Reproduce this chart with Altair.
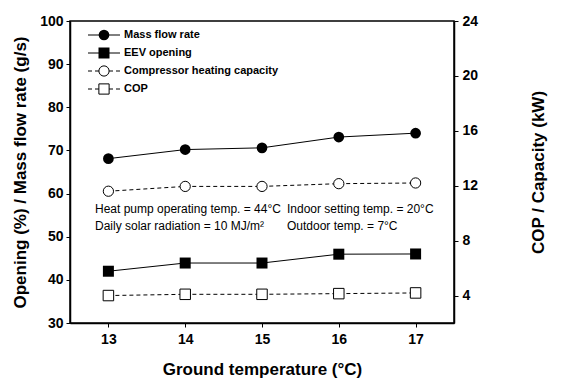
import altair as alt
import pandas as pd

# Data
ground_temp = [13, 14, 15, 16, 17]
mass_flow = [68.1, 70.2, 70.6, 73.1, 74.0]        # g/s (left axis)
eev_opening = [42.0, 43.9, 43.9, 45.95, 46.0]      # % (left axis)
comp_capacity = [11.6, 11.95, 11.95, 12.15, 12.2]  # kW (right axis)
cop = [4.0, 4.09, 4.09, 4.14, 4.19]                # - (right axis)

left_ticks = [30, 40, 50, 60, 70, 80, 90, 100]
right_ticks = [4, 8, 12, 16, 20, 24]
x_ticks = [13, 14, 15, 16, 17]

legend_labels = ["Mass flow rate", "EEV opening", "Compressor heating capacity", "COP"]
note_lines = [
    ["Heat pump operating temp. = 44°C", "Indoor setting temp. = 20°C"],
    ["Daily solar radiation = 10 MJ/m²", "Outdoor temp. = 7°C"],
]

df = pd.DataFrame({
    "temp": ground_temp,
    "mass": mass_flow,
    "eev": eev_opening,
    "cap": comp_capacity,
    "cop": cop,
})

FONT = "Liberation Sans"
W, H = 384, 302

x_axis = alt.Axis(values=x_ticks, title="Ground temperature (°C)", format="d",
                  labelFont=FONT, labelFontSize=14, labelFontWeight="bold",
                  titleFont=FONT, titleFontSize=17, titleFontWeight="bold",
                  tickSize=4, labelPadding=5, titlePadding=15, grid=False,
                  domainColor="black", tickColor="black", labelColor="black",
                  titleColor="black", domainWidth=1.5)
x_enc = alt.X("temp:Q", scale=alt.Scale(domain=[12.5, 17.5], nice=False, zero=False),
              axis=x_axis)

lscale = alt.Scale(domain=[30, 100], nice=False, zero=False)
rscale = alt.Scale(domain=[2, 24], nice=False, zero=False)

left_axis = alt.Axis(values=left_ticks, title="Opening (%) / Mass flow rate (g/s)",
                     labelFont=FONT, labelFontSize=14, labelFontWeight="bold",
                     titleFont=FONT, titleFontSize=17, titleFontWeight="bold",
                     tickSize=4, labelPadding=3, titlePadding=10, grid=False,
                     domainColor="black", tickColor="black", labelColor="black",
                     titleColor="black", domainWidth=1.5)
right_axis = alt.Axis(values=right_ticks, title="COP / Capacity (kW)", orient="right",
                      labelFont=FONT, labelFontSize=14, labelFontWeight="bold",
                      titleFont=FONT, titleFontSize=17, titleFontWeight="bold",
                      titleAngle=270, titleBaseline="bottom",
                      tickSize=4, labelPadding=4, titlePadding=70, grid=False,
                      domainColor="black", tickColor="black", labelColor="black",
                      titleColor="black", domainWidth=1.5)


def ly(field):
    return alt.Y(f"{field}:Q", scale=lscale, axis=left_axis)


def ry(field):
    return alt.Y(f"{field}:Q", scale=rscale, axis=right_axis)


base = alt.Chart(df)

mass_line = base.mark_line(color="black", strokeWidth=1).encode(x=x_enc, y=ly("mass"))
mass_pt = base.mark_point(shape="circle", filled=True, color="black", size=115, opacity=1).encode(
    x=x_enc, y=ly("mass"))
eev_line = base.mark_line(color="black", strokeWidth=1).encode(x=x_enc, y=ly("eev"))
eev_pt = base.mark_point(shape="square", filled=True, color="black", size=121, opacity=1).encode(
    x=x_enc, y=ly("eev"))

cap_line = base.mark_line(color="black", strokeWidth=1, strokeDash=[4, 3]).encode(
    x=x_enc, y=ry("cap"))
cap_pt = base.mark_point(shape="circle", filled=False, fill="white", stroke="black",
                         strokeWidth=1, size=105, opacity=1).encode(x=x_enc, y=ry("cap"))
cop_line = base.mark_line(color="black", strokeWidth=1, strokeDash=[4, 3]).encode(
    x=x_enc, y=ry("cop"))
cop_pt = base.mark_point(shape="square", filled=False, fill="white", stroke="black",
                         strokeWidth=1, size=110, opacity=1).encode(x=x_enc, y=ry("cop"))

one = alt.Data(values=[{}])

# Legend (drawn manually, as in the reference)
leg_layers = []
leg_rows = [14, 32, 50, 68]
leg_styles = [
    ("circle", True, None),
    ("square", True, None),
    ("circle", False, [4, 3]),
    ("square", False, [4, 3]),
]
for label, yy, (shp, filled, dash) in zip(legend_labels, leg_rows, leg_styles):
    rule_kwargs = dict(color="black", strokeWidth=1)
    if dash:
        rule_kwargs["strokeDash"] = dash
    leg_layers.append(alt.Chart(one).mark_rule(**rule_kwargs).encode(
        x=alt.value(18), x2=alt.value(50), y=alt.value(yy)))
    if filled:
        leg_layers.append(alt.Chart(one).mark_point(shape=shp, filled=True, color="black",
                                                    size=115 if shp == "circle" else 121,
                                                    opacity=1).encode(
            x=alt.value(34), y=alt.value(yy)))
    else:
        leg_layers.append(alt.Chart(one).mark_point(shape=shp, filled=False, fill="white",
                                                    stroke="black", strokeWidth=1,
                                                    size=105, opacity=1).encode(
            x=alt.value(34), y=alt.value(yy)))
    leg_layers.append(alt.Chart(one).mark_text(align="left", baseline="middle", font=FONT,
                                               fontSize=11, fontWeight="bold",
                                               color="black").encode(
        x=alt.value(54), y=alt.value(yy), text=alt.value(label)))

# Annotation text
note_layers = []
for (a, b), yy in zip(note_lines, [188, 205]):
    note_layers.append(alt.Chart(one).mark_text(align="left", baseline="middle", font=FONT,
                                                fontSize=12, color="black").encode(
        x=alt.value(25), y=alt.value(yy), text=alt.value(a)))
    note_layers.append(alt.Chart(one).mark_text(align="left", baseline="middle", font=FONT,
                                                fontSize=12, color="black").encode(
        x=alt.value(217), y=alt.value(yy), text=alt.value(b)))

left = alt.layer(mass_line, mass_pt, eev_line, eev_pt, *leg_layers, *note_layers)
right = alt.layer(cap_line, cap_pt, cop_line, cop_pt)

chart = alt.layer(left, right).resolve_scale(y="independent").properties(
    width=W, height=H,
    autosize=alt.AutoSizeParams(type="none"),
    padding={"left": 62, "top": 13, "right": 100, "bottom": 56},
    background="white",
).configure_view(stroke="black", strokeWidth=1.5)

chart.save("out.html", embed_options={"renderer": "svg", "actions": False})
